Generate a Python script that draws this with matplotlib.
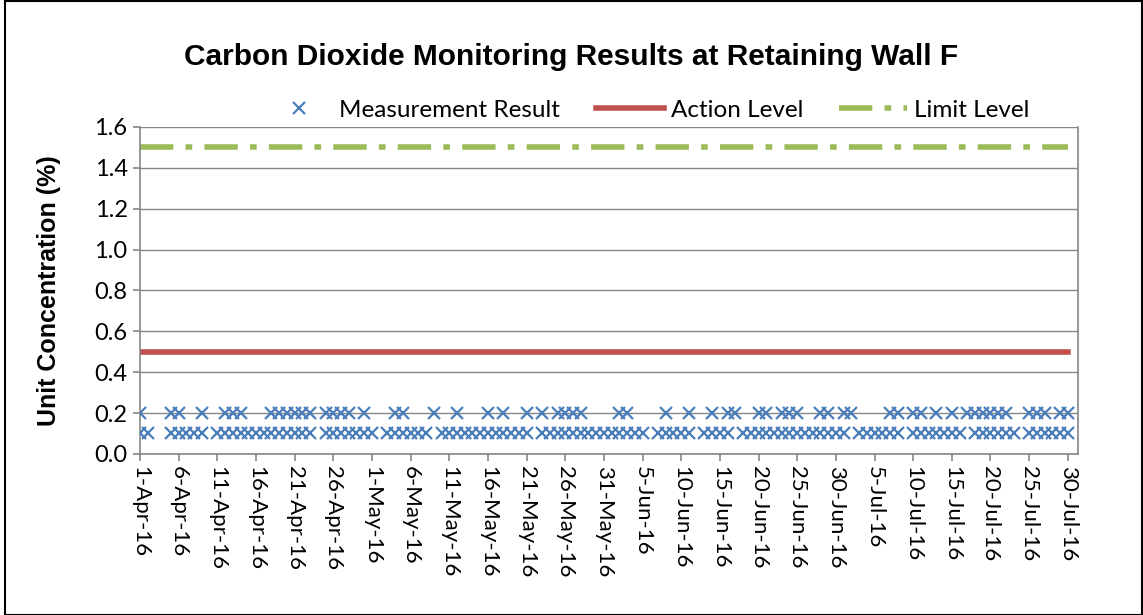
import numpy as np
import pandas as pd
import matplotlib
matplotlib.use("Agg")
import matplotlib.pyplot as plt
from matplotlib.patches import Rectangle

# day offsets from 1-Apr-16 with a reading at each level
days_02 = [0, 4, 5, 8, 11, 12, 13, 17, 18, 19, 20, 21, 22, 24, 25, 26, 27, 29,
           33, 34, 38, 41, 45, 47, 50, 52, 54, 55, 56, 57, 62, 63, 68, 71, 74,
           76, 77, 80, 81, 83, 84, 85, 88, 89, 91, 92, 97, 98, 100, 101, 103,
           105, 107, 108, 109, 110, 111, 112, 115, 116, 117, 119, 120]
days_01 = ([0, 1] + list(range(4, 9)) + list(range(10, 23)) + list(range(24, 31))
           + list(range(32, 38)) + list(range(39, 51)) + list(range(52, 66))
           + list(range(67, 72)) + list(range(73, 77)) + list(range(78, 92))
           + list(range(93, 99)) + list(range(100, 107)) + list(range(108, 114))
           + list(range(115, 121)))
action_level = 0.5
limit_level = 1.5

start = pd.Timestamp("2016-04-01")
end = pd.Timestamp("2016-07-30")
d02 = start + pd.to_timedelta(days_02, unit="D")
d01 = start + pd.to_timedelta(days_01, unit="D")
all_days = pd.date_range(start, end, freq="D")

fig = plt.figure(figsize=(11.43, 6.15), dpi=100)
fig.patches.append(Rectangle((0.004, 0.0), 0.995, 0.998, transform=fig.transFigure,
                             fill=False, edgecolor="black", linewidth=1.5))
ax = fig.add_axes([0.1225, 0.262, 0.8205, 0.5315])

blue = "#4a7ebb"
ax.plot(d02, [0.2] * len(d02), linestyle="none", marker="x", color=blue,
        markersize=9, markeredgewidth=1.6, label="Measurement Result", zorder=3)
ax.plot(d01, [0.1] * len(d01), linestyle="none", marker="x", color=blue,
        markersize=9, markeredgewidth=1.6, zorder=3)
ax.plot(all_days, [action_level] * len(all_days), color="#c0504d", linewidth=4,
        label="Action Level", zorder=2)
ax.plot(all_days, [limit_level] * len(all_days), color="#9bbb59", linewidth=4,
        dashes=(6, 2.2, 1.2, 2.2), label="Limit Level", zorder=2)

ax.set_xlim(start, start + pd.Timedelta(days=121.3))
ax.set_ylim(0, 1.6)
ax.set_yticks(np.arange(0, 1.61, 0.2))
ax.yaxis.set_major_formatter(plt.FuncFormatter(lambda v, p: f"{v:.1f}"))
ticks = pd.date_range(start, end, freq="5D")
ax.set_xticks(ticks)
ax.set_xticklabels([f"{t.day}-{t.strftime('%b')}-16" for t in ticks], rotation=-90,
                   fontfamily="Lato", fontsize=16)
for lab in ax.get_yticklabels():
    lab.set_fontfamily("Lato")
    lab.set_fontsize(17)

ax.grid(axis="y", color="#868686", linewidth=1)
ax.set_axisbelow(True)
ax.spines["top"].set_visible(False)
for s in ["left", "bottom", "right"]:
    ax.spines[s].set_color("#868686")
    ax.spines[s].set_linewidth(1.2)
ax.tick_params(axis="both", color="#868686", length=5, width=1.2, pad=4)

ax.set_ylabel("Unit Concentration (%)", fontfamily="Liberation Sans",
              fontweight="bold", fontsize=18, labelpad=24)
fig.text(0.5, 0.908, "Carbon Dioxide Monitoring Results at Retaining Wall F",
         ha="center", va="center", fontfamily="Liberation Sans",
         fontweight="bold", fontsize=21.5)

fig.legend(loc="center", bbox_to_anchor=(0.566, 0.821), ncol=3, frameon=False,
           prop={"family": "Lato", "size": 17.5}, handlelength=2.8,
           columnspacing=1.5, handletextpad=0.25)

fig.savefig("out.png", dpi=100)
